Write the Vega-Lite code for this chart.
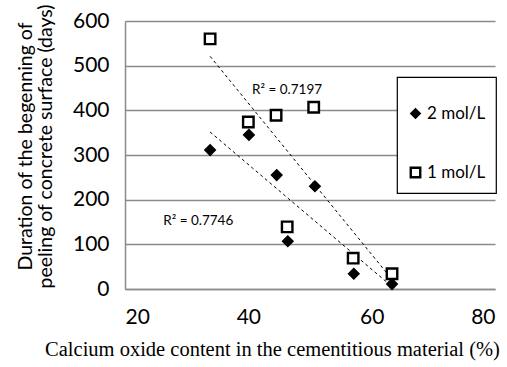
{
  "$schema": "https://vega.github.io/schema/vega-lite/v6.json",
  "width": 370,
  "height": 268,
  "autosize": {"type": "none"},
  "padding": {"left": 125, "top": 21, "right": 12, "bottom": 78},
  "background": "white",
  "datasets": {
    "pts": [
      {"cao": 33.8, "days": 560, "series": "1 mol/L"},
      {"cao": 40.0, "days": 374, "series": "1 mol/L"},
      {"cao": 44.5, "days": 389, "series": "1 mol/L"},
      {"cao": 50.6, "days": 407, "series": "1 mol/L"},
      {"cao": 46.3, "days": 139, "series": "1 mol/L"},
      {"cao": 57.0, "days": 69, "series": "1 mol/L"},
      {"cao": 63.3, "days": 34, "series": "1 mol/L"},
      {"cao": 33.8, "days": 311, "series": "2 mol/L"},
      {"cao": 40.1, "days": 345, "series": "2 mol/L"},
      {"cao": 44.6, "days": 255, "series": "2 mol/L"},
      {"cao": 50.8, "days": 230, "series": "2 mol/L"},
      {"cao": 46.4, "days": 107, "series": "2 mol/L"},
      {"cao": 57.1, "days": 34, "series": "2 mol/L"},
      {"cao": 63.3, "days": 11, "series": "2 mol/L"}
    ],
    "labels": [
      {"cao": 40.6, "days": 445, "label": "R² = 0.7197"},
      {"cao": 26.2, "days": 152, "label": "R² = 0.7746"}
    ]
  },
  "layer": [
    {
      "data": {"name": "pts"},
      "transform": [{"regression": "days", "on": "cao", "groupby": ["series"]}],
      "mark": {"type": "line", "color": "black", "strokeWidth": 1, "strokeDash": [3, 3]},
      "encoding": {
        "x": {"field": "cao", "type": "quantitative"},
        "y": {"field": "days", "type": "quantitative"},
        "detail": {"field": "series"}
      }
    },
    {
      "data": {"name": "pts"},
      "mark": {"type": "point", "filled": true, "opacity": 1, "size": 110},
      "encoding": {
        "x": {
          "field": "cao", "type": "quantitative",
          "scale": {"domain": [20, 80], "nice": false, "zero": false},
          "axis": {
            "values": [20, 40, 60, 80],
            "title": "Calcium oxide content  in the cementitious material (%)",
            "titleFont": "Liberation Serif",
            "titleFontSize": 20.5,
            "titleFontWeight": "normal",
            "titleColor": "black",
            "titleX": 147,
            "titleY": 66,
            "titleBaseline": "alphabetic",
            "labelFont": "Lato",
            "labelFontSize": 21,
            "labelColor": "black",
            "labelPadding": 17,
            "ticks": false,
            "grid": false,
            "domainColor": "#8a8a8a",
            "domainWidth": 1.5
          }
        },
        "y": {
          "field": "days", "type": "quantitative",
          "scale": {"domain": [0, 600], "nice": false},
          "axis": {
            "values": [0, 100, 200, 300, 400, 500, 600],
            "title": ["Duration of the begenning of", "peeling of concrete surface (days)"],
            "titleFont": "Lato",
            "titleFontSize": 19.5,
            "titleFontWeight": "normal",
            "titleColor": "black",
            "titleLineHeight": 20,
            "titleX": -90,
            "titleY": 125,
            "titleAngle": -90,
            "titleBaseline": "bottom",
            "titleAlign": "center",
            "labelFont": "Lato",
            "labelFontSize": 21,
            "labelColor": "black",
            "labelPadding": 16,
            "ticks": false,
            "grid": true,
            "gridColor": "#8a8a8a",
            "gridWidth": 1.5,
            "domainColor": "#8a8a8a",
            "domainWidth": 1.5
          }
        },
        "shape": {
          "field": "series", "type": "nominal",
          "scale": {"domain": ["2 mol/L", "1 mol/L"], "range": ["diamond", "square"]},
          "legend": {"title": " "}
        },
        "fill": {
          "field": "series", "type": "nominal",
          "scale": {"domain": ["2 mol/L", "1 mol/L"], "range": ["black", "white"]},
          "legend": {"title": " "}
        },
        "stroke": {
          "field": "series", "type": "nominal",
          "scale": {"domain": ["2 mol/L", "1 mol/L"], "range": ["black", "black"]},
          "legend": {"title": " "}
        },
        "strokeWidth": {
          "field": "series", "type": "nominal",
          "scale": {"domain": ["2 mol/L", "1 mol/L"], "range": [1.5, 2.4]},
          "legend": {"title": " "}
        }
      }
    },
    {
      "data": {"name": "labels"},
      "mark": {"type": "text", "align": "left", "baseline": "middle", "font": "Lato", "fontSize": 13.5, "color": "black"},
      "encoding": {
        "x": {"field": "cao", "type": "quantitative"},
        "y": {"field": "days", "type": "quantitative"},
        "text": {"field": "label"}
      }
    }
  ],
  "config": {
    "view": {"stroke": null},
    "legend": {
      "orient": "none",
      "legendX": 272,
      "legendY": 56,
      "padding": 10,
      "rowPadding": 40,
      "titleFontSize": 6,
      "titlePadding": 12,
      "labelFont": "Lato",
      "labelFontSize": 17,
      "labelColor": "black",
      "symbolSize": 90,
      "labelOffset": 3,
      "fillColor": "white",
      "strokeColor": "black",
      "strokeWidth": 1.2
    }
  }
}
